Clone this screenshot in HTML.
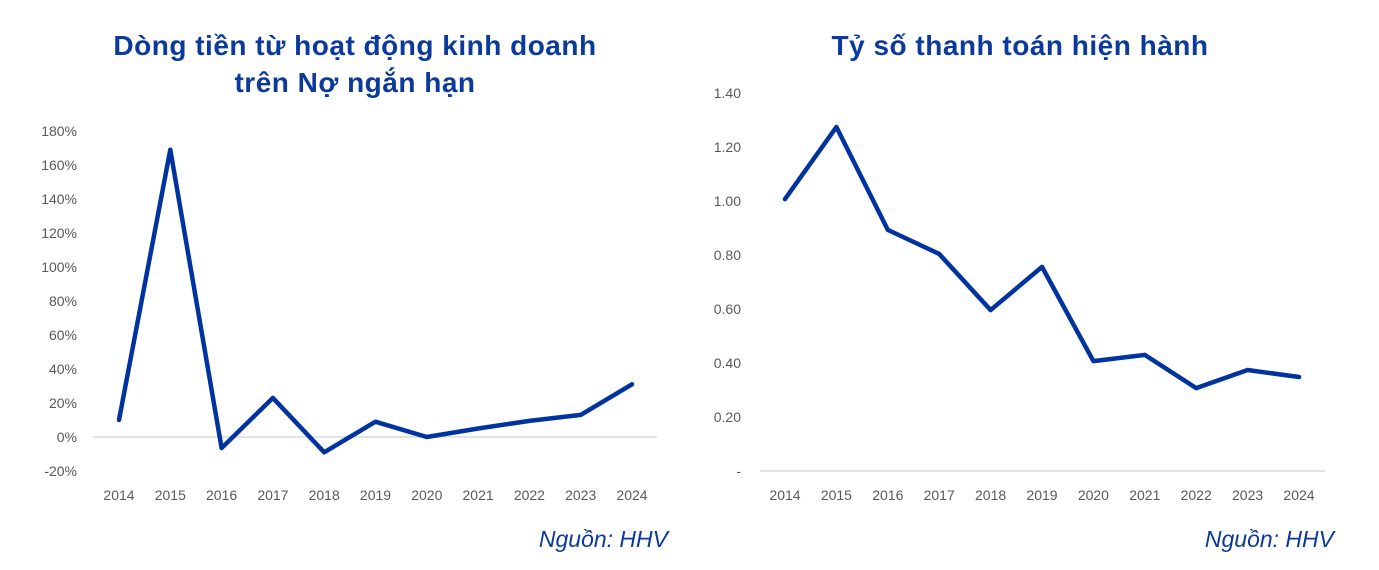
<!DOCTYPE html>
<html><head><meta charset="utf-8">
<style>
body{margin:0;background:#fff;width:1379px;height:565px;overflow:hidden;font-family:"Liberation Sans",sans-serif}
svg text{font-family:"Liberation Sans",sans-serif}
</style></head>
<body>
<svg id="c" width="1379" height="565">
<text x="355" y="55" text-anchor="middle" font-size="28" letter-spacing="0.5" font-weight="bold" fill="#0b3a9c">Dòng tiền từ hoạt động kinh doanh</text>
<text x="355" y="92" text-anchor="middle" font-size="28" letter-spacing="0.5" font-weight="bold" fill="#0b3a9c">trên Nợ ngắn hạn</text>
<text x="1020" y="55" text-anchor="middle" font-size="28" letter-spacing="0.5" font-weight="bold" fill="#0b3a9c">Tỷ số thanh toán hiện hành</text>
<text x="668" y="547" text-anchor="end" font-size="23" font-style="italic" fill="#0b3a9c">Nguồn: HHV</text>
<text x="1334" y="547" text-anchor="end" font-size="23" font-style="italic" fill="#0b3a9c">Nguồn: HHV</text>
<g id="L"></g><g id="R"></g>
</svg>
<script>
const years=["2014","2015","2016","2017","2018","2019","2020","2021","2022","2023","2024"];
const cfoRatio=[10,169,-6.5,23,-9,9,0,5,9.5,13,31];
const leftTicks=[-20,0,20,40,60,80,100,120,140,160,180];
const currentRatio=[1.007,1.274,0.893,0.804,0.596,0.756,0.407,0.43,0.307,0.374,0.348];
const rightTicks=[0,0.2,0.4,0.6,0.8,1.0,1.2,1.4];
const NS="http://www.w3.org/2000/svg";
function mk(p,t,a){const e=document.createElementNS(NS,t);for(const k in a)e.setAttribute(k,a[k]);p.appendChild(e);return e;}
function draw(g,vals,ticks,x0,x1,ax0,ax1,y0,pxPer,fmt,labX,name){
 const X=i=>x0+(x1-x0)*i/(vals.length-1);
 const Y=v=>y0-v*pxPer;
 ticks.forEach(t=>{const e=mk(g,'text',{x:labX,y:Y(t)+5,'text-anchor':'end','font-size':14,fill:'#595959'});e.textContent=fmt(t);
 
 });
 const ax=mk(g,'line',{x1:ax0,x2:ax1,y1:y0,y2:y0,stroke:'#d9d9d9','stroke-width':1.5});
 
 
 years.forEach((y,i)=>{const e=mk(g,'text',{x:X(i),y:500,'text-anchor':'middle','font-size':14,fill:'#595959'});e.textContent=y;
 
 });
 const pl=mk(g,'polyline',{points:vals.map((v,i)=>X(i)+','+Y(v)).join(' '),fill:'none',stroke:'#00339f','stroke-width':4.5,'stroke-linejoin':'round','stroke-linecap':'round'});
 
 
}
draw(document.getElementById('L'),cfoRatio,leftTicks,119,632,93,657,437,34/20,t=>t+'%',77,'cfo-ratio-line');
draw(document.getElementById('R'),currentRatio,rightTicks,785,1299,760,1325,471,54/0.2,t=>t===0?'-':t.toFixed(2),741,'current-ratio-line');
</script>
</body></html>
